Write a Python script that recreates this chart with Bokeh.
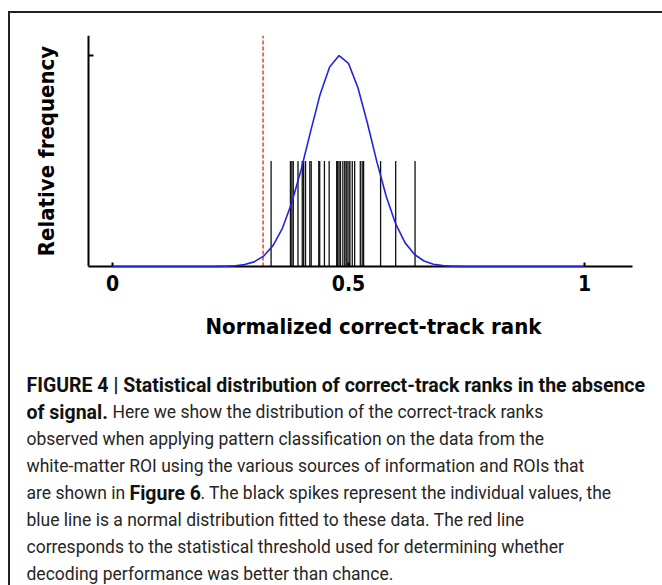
from bokeh.plotting import figure
from bokeh.layouts import column
from bokeh.models import Range1d, FixedTicker, Title
from bokeh.embed import file_html
from bokeh.resources import INLINE
from bokeh.core.properties import value

# ---------------- data ----------------
spike_values = [0.336, 0.377, 0.380, 0.383, 0.393, 0.402, 0.405, 0.409, 0.418,
                0.421, 0.437, 0.439, 0.449, 0.459, 0.475, 0.477, 0.480, 0.483,
                0.488, 0.492, 0.495, 0.497, 0.501, 0.503, 0.508, 0.513, 0.525,
                0.529, 0.532, 0.568, 0.600, 0.641]
spike_height = 0.5

curve_x = [0.00, 0.20, 0.22, 0.24, 0.26, 0.28, 0.30, 0.32, 0.34, 0.36, 0.38,
           0.40, 0.42, 0.44, 0.46, 0.48, 0.50, 0.52, 0.54, 0.56, 0.58, 0.60,
           0.62, 0.64, 0.66, 0.68, 0.70, 0.72, 0.74, 0.76, 1.00]
curve_y = [0.000, 0.000, 0.0004, 0.0012, 0.0035, 0.009, 0.022, 0.049, 0.099,
           0.181, 0.303, 0.462, 0.643, 0.817, 0.946, 1.000, 0.963, 0.847,
           0.680, 0.497, 0.332, 0.202, 0.112, 0.057, 0.026, 0.011, 0.004,
           0.0015, 0.0005, 0.000, 0.000]

threshold = 0.319

x_ticks = [0, 0.5, 1]
x_tick_labels = ["0", "0.5", "1"]
y_ticks = [1.0]
x_label = "Normalized correct-track rank"
y_label = "Relative frequency"

caption_lines = [
    [("FIGURE 4 | Statistical distribution of correct-track ranks in the absence", "bold", 16)],
    [("of signal.", "bold", 16), ("Here we show the distribution of the correct-track ranks", "normal", 102)],
    [("observed when applying pattern classification on the data from the", "normal", 16)],
    [("white-matter ROI using the various sources of information and ROIs that", "normal", 16)],
    [("are shown in", "normal", 16), ("Figure 6", "bold", 119),
     (". The black spikes represent the individual values, the", "normal", 190)],
    [("blue line is a normal distribution fitted to these data. The red line", "normal", 16)],
    [("corresponds to the statistical threshold used for determining whether", "normal", 16)],
    [("decoding performance was better than chance.", "normal", 16)],
]

# ---------------- chart ----------------
AX_FONT = "DejaVu Sans Condensed"
AXIS_X0, AXIS_X1 = -0.0508, 1.1017     # extent of the drawn x axis
Y_TOP = 1.095

p = figure(width=652, height=352, output_backend="svg", toolbar_location=None,
           x_range=Range1d(-0.2161, 1.16525), y_range=Range1d(0, Y_TOP),
           min_border_left=0, min_border_right=0, min_border_top=22,
           min_border_bottom=99, background_fill_color="white",
           border_fill_color="white")
p.outline_line_color = None
p.xgrid.visible = False
p.ygrid.visible = False

# red threshold
p.segment(x0=[threshold], y0=[0], x1=[threshold], y1=[Y_TOP],
          line_color="#e3261f", line_width=1.3, line_dash="4 2")

# spikes
p.segment(x0=spike_values, y0=[0] * len(spike_values), x1=spike_values,
          y1=[spike_height] * len(spike_values), line_color="#111111",
          line_width=1.3)

# fitted normal curve
p.line(curve_x, curve_y, line_color="#2424e0", line_width=1.6, level="overlay")

xa = p.xaxis[0]
xa.bounds = (AXIS_X0, AXIS_X1)
xa.ticker = FixedTicker(ticks=x_ticks)
xa.major_label_overrides = {t: l for t, l in zip(x_ticks, x_tick_labels)}
xa.axis_line_width = 2
xa.axis_line_color = "black"
xa.major_tick_line_width = 2
xa.major_tick_in = 4
xa.major_tick_out = 0
xa.minor_tick_line_color = None
xa.major_label_text_font = AX_FONT
xa.major_label_text_font_style = "bold"
xa.major_label_text_font_size = "21px"
xa.major_label_text_color = "black"
xa.major_label_standoff = 8

# x-axis title, placed under the tick labels (offset from the frame's left)
p.add_layout(Title(text=x_label, align="left", offset=195,
                   text_font=AX_FONT, text_font_style="bold",
                   text_font_size="22px", text_color="black",
                   standoff=36), "below")

ya = p.yaxis[0]
ya.fixed_location = AXIS_X0
ya.bounds = (0, Y_TOP)
ya.ticker = FixedTicker(ticks=y_ticks)
ya.major_label_overrides = {t: "" for t in y_ticks}
ya.major_label_text_font_size = "0px"
ya.axis_line_width = 2
ya.axis_line_color = "black"
ya.major_tick_line_width = 2
ya.major_tick_in = 5
ya.major_tick_out = 0
ya.minor_tick_line_color = None
ya.axis_label = y_label
ya.axis_label_text_font = AX_FONT
ya.axis_label_text_font_style = "bold"
ya.axis_label_text_font_size = "22px"
ya.axis_label_text_color = "black"
ya.axis_label_standoff = 30

# ---------------- caption ----------------
CAP_FONT = "Roboto"
cap = figure(width=652, height=220, output_backend="svg", toolbar_location=None,
             x_range=Range1d(0, 652), y_range=Range1d(220, 0),
             x_axis_type=None, y_axis_type=None,
             min_border=0, min_border_left=0, min_border_right=0,
             min_border_top=0, min_border_bottom=0)
cap.outline_line_color = None
cap.xgrid.visible = False
cap.ygrid.visible = False

line_gap = 26.9
first_base = 20
for i, segs in enumerate(caption_lines):
    for txt, style, x in segs:
        cap.text(x=[x], y=[first_base + i * line_gap], text=[txt],
                 text_font=value(CAP_FONT), text_font_style=style,
                 text_font_size="19.5px" if style == "bold" else "17.5px",
                 text_color="#111111" if style == "bold" else "#262626",
                 text_baseline="alphabetic", text_align="left")

layout = column(p, cap, margin=(11, 0, 0, 8), spacing=0,
                styles={"border-left": "2px solid #222222",
                        "border-top": "2px solid #222222"})

open("out.html", "w").write(file_html(layout, INLINE))
